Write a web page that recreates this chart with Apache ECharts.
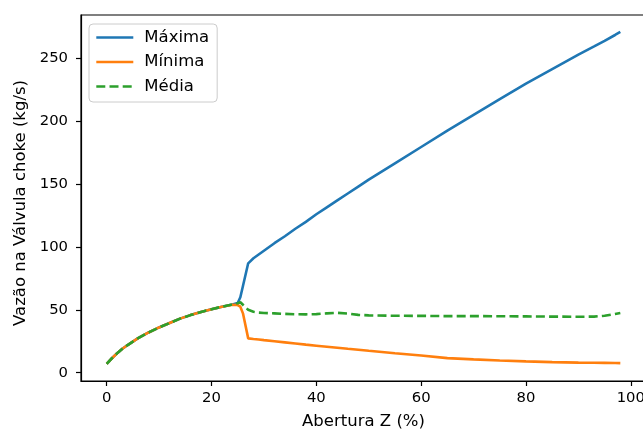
<!DOCTYPE html>
<html>
<head>
<meta charset="utf-8">
<script src="https://cdn.jsdelivr.net/npm/echarts@6/dist/echarts.min.js"></script>
<style>
html,body{margin:0;padding:0;background:#fff;}
#chart{width:643px;height:430px;}
</style>
</head>
<body>
<div id="chart"></div>
<script>
const abertura = [0,1,2,3,4,6,8,10,12,14,16,18,20,22,24,
  25,25.5,26,27,28,29,30,32,34,36,38,40,42,44,46,48,50,55,60,65,70,75,80,85,90,93,95,97,98];
const maxima = [7,11.5,15.5,19,22,27.5,32,36,39.5,43,45.8,48.3,50.5,52.5,54.3,
  55.5,60,69,87,91,94,97,103,108.5,114.5,120,126,131.5,137,142.5,148,153.5,166.5,179.5,192.5,205,217.5,230,241.5,253,259.5,264,268.6,271];
const minima = [7,11.5,15.5,19,22,27.5,32,36,39.5,43,45.8,48.3,50.5,52.5,54.1,
  53.8,52.5,47.2,27.3,26.8,26.4,25.9,25,24.1,23.2,22.3,21.5,20.7,19.9,19,18.2,17.4,15.5,13.7,11.6,10.6,9.7,9,8.4,8,7.9,7.8,7.7,7.6];
const media = [7,11.5,15.5,19,22,27.5,32,36,39.5,43,45.8,48.3,50.5,52.5,54.3,
  55.3,56,54,50,48.5,47.8,47.5,47.2,46.8,46.5,46.4,46.6,47.2,47.6,47,46,45.6,45.3,45.2,45,45,44.9,44.8,44.6,44.5,44.6,45.3,46.7,47.5];
const xTicks = [0,20,40,60,80,100];
const yTicks = [0,50,100,150,200,250];
const seriesNames = ['Máxima','Mínima','Média'];

const pairs = ys => abertura.map((x,i)=>[x, ys[i]]);
const FONT = 'DejaVu Sans';
const chart = echarts.init(document.getElementById('chart'), null, {renderer:'canvas'});
chart.setOption({
  animation:false,
  backgroundColor:'#fff',
  textStyle:{fontFamily:FONT},
  grid:{left:81, top:15, width:565, height:366, show:true, borderColor:'#000', borderWidth:1.2, containLabel:false, outerBoundsMode:'none'},
  legend:{
    left:89, top:24, orient:'vertical',
    backgroundColor:'#fff', borderColor:'#cccccc', borderWidth:1, borderRadius:4,
    padding:[5,8,7,6], itemWidth:37, itemHeight:18, itemGap:7.5,
    itemStyle:{opacity:0},
    lineStyle:{width:2.6},
    textStyle:{fontFamily:FONT, fontSize:16.5, color:'#000', padding:[0,0,0,6]},
    data:seriesNames
  },
  xAxis:{
    type:'value', min:-4.9, max:102.9,
    name:'Abertura Z (%)', nameLocation:'middle', nameGap:32,
    nameTextStyle:{fontFamily:FONT, fontSize:16.5, color:'#000'},
    axisLine:{show:true, onZero:false, lineStyle:{color:'#000', width:1.2}},
    axisTick:{show:true, length:5, lineStyle:{color:'#000', width:1.2}, customValues:xTicks},
    axisLabel:{fontFamily:FONT, fontSize:14.8, color:'#000', margin:10, customValues:xTicks},
    splitLine:{show:false}
  },
  yAxis:{
    type:'value', min:-6.6, max:284.5,
    name:'Vazão na Válvula choke (kg/s)', nameLocation:'middle', nameGap:52, nameRotate:90,
    nameTextStyle:{fontFamily:FONT, fontSize:16.5, color:'#000', padding:[0,10,0,0]},
    axisLine:{show:true, onZero:false, lineStyle:{color:'#000', width:1.2}},
    axisTick:{show:true, length:5, lineStyle:{color:'#000', width:1.2}, customValues:yTicks},
    axisLabel:{fontFamily:FONT, fontSize:14.8, color:'#000', margin:13, customValues:yTicks},
    splitLine:{show:false}
  },
  series:[
    {name:seriesNames[0], type:'line', data:pairs(maxima), showSymbol:false, symbol:'none', color:'#1f77b4', lineStyle:{width:2.6, color:'#1f77b4'}},
    {name:seriesNames[1], type:'line', data:pairs(minima), showSymbol:false, symbol:'none', color:'#ff7f0e', lineStyle:{width:2.6, color:'#ff7f0e'}},
    {name:seriesNames[2], type:'line', data:pairs(media), showSymbol:false, symbol:'none', color:'#2ca02c', lineStyle:{width:2.6, color:'#2ca02c', type:[9,4.2]}}
  ]
});
</script>
</body>
</html>
